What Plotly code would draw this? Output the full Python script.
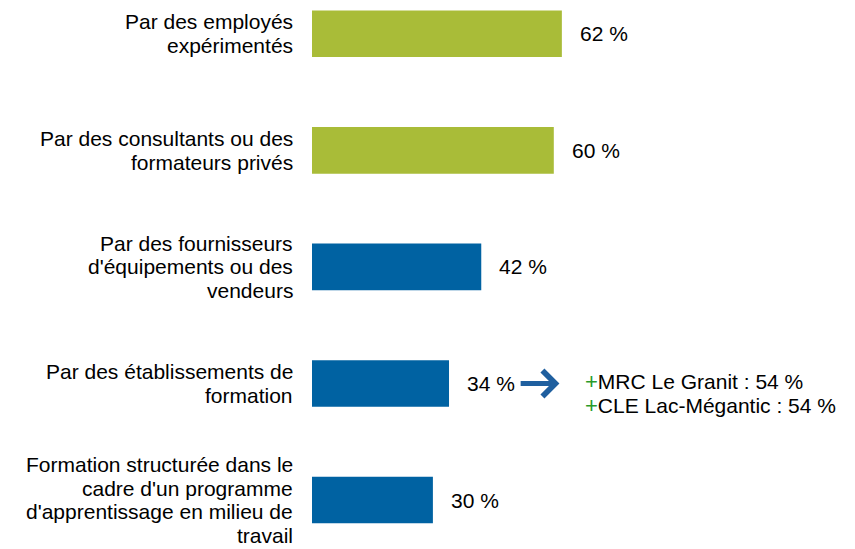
import plotly.graph_objects as go

# data
categories = [
    "Par des employés<br>expérimentés",
    "Par des consultants ou des<br>formateurs privés",
    "Par des fournisseurs<br>d'équipements ou des<br>vendeurs",
    "Par des établissements de<br>formation",
    "Formation structurée dans le<br>cadre d'un programme<br>d'apprentissage en milieu de<br>travail",
]
values = [62, 60, 42, 34, 30]
highlight = [True, True, False, False, False]
detail_labels = ["MRC Le Granit : 54 %", "CLE Lac-Mégantic : 54 %"]
detail_row = 3

GREEN = "#A9BC38"
BLUE = "#0062A2"
FONT = "Liberation Sans, Arial, sans-serif"
FS = 21
LINE_H = 23.7
PX_PER_PCT = 4.03

ypos = list(range(len(categories)))
colors = [GREEN if h else BLUE for h in highlight]

fig = go.Figure(go.Bar(
    x=values, y=ypos, orientation="h",
    marker=dict(color=colors, line=dict(width=0)),
    width=0.40, hoverinfo="skip",
))

annotations = []
for y, cat, v in zip(ypos, categories, values):
    # one annotation per line so the line spacing stays tight
    lines = cat.split("<br>")
    n = len(lines)
    for i, line in enumerate(lines):
        annotations.append(dict(x=0, y=y, xref="paper", yref="y", text=line,
                                showarrow=False, xanchor="right",
                                xshift=-17, yshift=-(i - (n - 1) / 2) * LINE_H,
                                font=dict(size=FS, color="#000")))
    annotations.append(dict(x=v, y=y, xref="x", yref="y", text=f"{v} %",
                            showarrow=False, xanchor="left", xshift=16,
                            font=dict(size=FS, color="#000")))

# arrow to the regional details
v = values[detail_row]
annotations.append(dict(x=v + 27.4, y=detail_row, ax=v + 17.4, ay=detail_row,
                        xref="x", yref="y", axref="x", ayref="y", text="",
                        showarrow=True, arrowhead=4, arrowsize=1.0,
                        arrowwidth=5, arrowcolor="#1F5F9F"))
for i, lab in enumerate(detail_labels):
    annotations.append(dict(x=(583 - 312) / PX_PER_PCT, y=detail_row,
                            xref="x", yref="y", xanchor="left",
                            yshift=2 - LINE_H * i, showarrow=False,
                            text=f"<span style='color:#2A9A2A;font-size:22px'>+</span>{lab}",
                            font=dict(size=FS, color="#000")))

fig.update_layout(
    width=855, height=549,
    margin=dict(l=312, r=0, t=0, b=0),
    plot_bgcolor="white", paper_bgcolor="white",
    showlegend=False,
    font=dict(family=FONT, size=FS, color="#000"),
    annotations=annotations,
)
fig.update_xaxes(range=[0, (855 - 312) / PX_PER_PCT], visible=False)
fig.update_yaxes(range=[4.42, -0.29], visible=False)

fig.write_html("out.html", config={"displayModeBar": False},
               post_script="document.body.style.margin='0';")
